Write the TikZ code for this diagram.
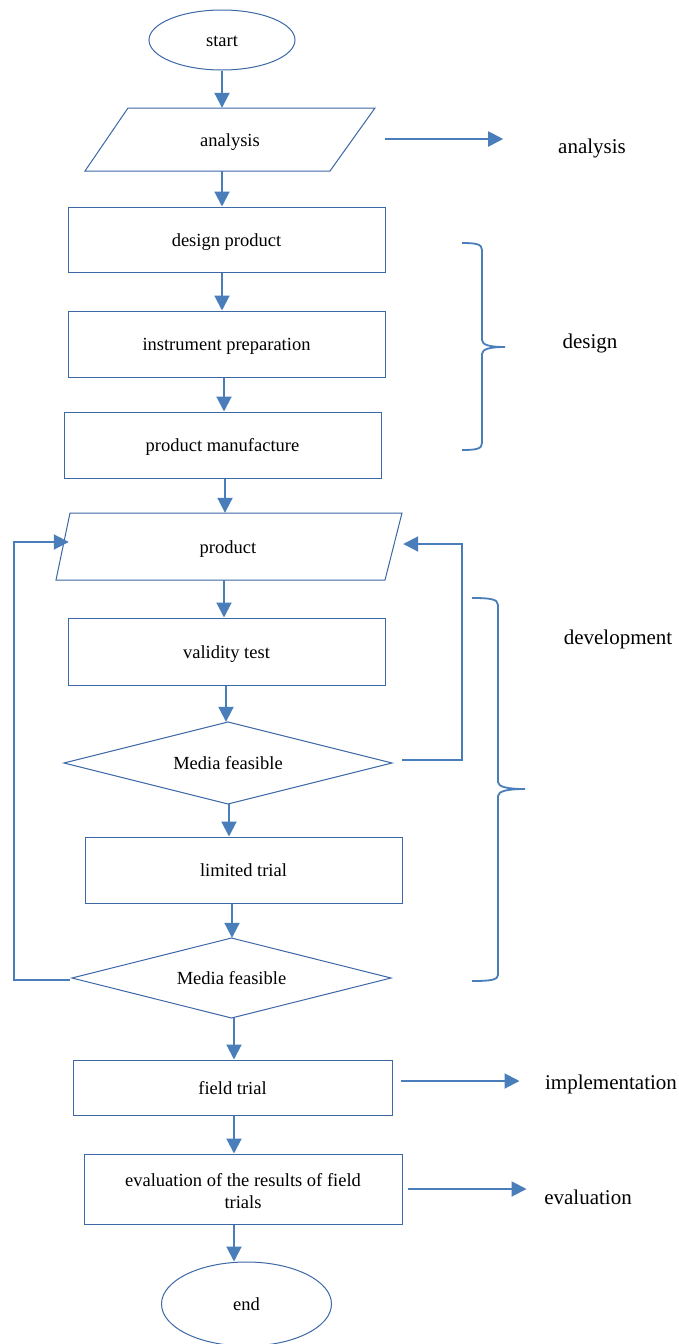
\documentclass[tikz,border=0pt]{standalone}
\usepackage{fontspec}
\setmainfont{Liberation Serif}
\usetikzlibrary{shapes.geometric,arrows.meta}
\definecolor{lineblue}{RGB}{74,126,187}
\definecolor{edgeblue}{RGB}{60,104,165}
\newcommand\nfont{\fontsize{18.5}{21.5}\selectfont}
\newcommand\lfont{\fontsize{21}{24}\selectfont}
\begin{document}
\begin{tikzpicture}[x=1pt,y=-1pt,
  shp/.style={draw=edgeblue,line width=1pt,line join=miter},
  box/.style={draw=edgeblue,line width=1pt,rectangle,inner sep=2pt,align=center,font=\nfont,text height=13pt,text depth=0pt},
  ell/.style={draw=edgeblue,line width=1pt,ellipse,inner sep=0pt,font=\nfont,text height=13pt,text depth=0pt},
  txt/.style={rectangle,inner sep=0pt,align=center,font=\nfont,text height=13pt,text depth=0pt},
  lab/.style={inner sep=0pt,font=\lfont,text height=14.5pt,text depth=0pt},
  conn/.style={draw=lineblue,line width=2pt},
  arr/.style={conn,-{Triangle[length=15pt,width=15pt]}},
  brace/.style={draw=lineblue,line width=1.8pt}]
\useasboundingbox[fill=white] (0,0) rectangle (679,1344);

% start / end
\node[ell,minimum width=146pt,minimum height=60pt] (st) at (222,40) {start};
\node[ell,minimum width=170pt,minimum height=84pt] (en) at (246.5,1304) {end};

% analysis parallelogram
\draw[shp] (128,108) -- (375,108) -- (330,171) -- (85,171) -- cycle;
\node[txt,minimum width=200pt,minimum height=63pt] (an) at (230,139.5) {analysis};

% boxes
\node[box,minimum width=317pt,minimum height=65pt] (dp) at (226.5,239.5) {design product};
\node[box,minimum width=317pt,minimum height=66pt] (ip) at (226.5,344) {instrument preparation};
\node[box,minimum width=317pt,minimum height=66pt] (pm) at (222.5,445) {product manufacture};

% product parallelogram
\draw[shp] (70,513) -- (402,513) -- (385,580) -- (56,580) -- cycle;
\node[txt,minimum width=350pt,minimum height=67pt] (prod) at (228,546.5) {product};

\node[box,minimum width=317pt,minimum height=67pt] (vt) at (226.5,651.5) {validity test};

% diamond 1
\draw[shp] (228,722) -- (392,763) -- (228,804) -- (64,763) -- cycle;
\node[txt,minimum width=328pt,minimum height=82pt] (d1) at (228,763) {Media feasible};

\node[box,minimum width=317pt,minimum height=66pt] (lt) at (243.5,870) {limited trial};

% diamond 2
\draw[shp] (231.5,938) -- (391,978) -- (231.5,1018) -- (72,978) -- cycle;
\node[txt,minimum width=319pt,minimum height=80pt] (d2) at (231.5,978) {Media feasible};

\node[box,minimum width=319pt,minimum height=55pt] (ft) at (232.5,1087.5) {field trial};
\node[box,minimum width=318pt,minimum height=70pt,text height=,text depth=] (ev) at (243,1189) {\raisebox{-4pt}[\height][\depth]{\begin{tabular}{@{}c@{}}evaluation of the results of field\\trials\end{tabular}}};

% main flow arrows
\draw[arr] (st.south) -- (st.south |- an.north);
\draw[arr] ([xshift=-8pt]an.south) -- ([xshift=-8pt]an.south |- dp.north);
\draw[arr] ([xshift=-4.5pt]dp.south) -- ([xshift=-4.5pt]dp.south |- ip.north);
\draw[arr] ([xshift=-2.5pt]ip.south) -- ([xshift=-2.5pt]ip.south |- pm.north);
\draw[arr] ([xshift=2.5pt]pm.south) -- ([xshift=2.5pt]pm.south |- prod.north);
\draw[arr] ([xshift=-4pt]prod.south) -- ([xshift=-4pt]prod.south |- vt.north);
\draw[arr] ([xshift=-0.5pt]vt.south) -- ([xshift=-0.5pt]vt.south |- d1.north);
\draw[arr] ([xshift=1pt]d1.south) -- ([xshift=1pt]d1.south |- lt.north);
\draw[arr] ([xshift=-11.5pt]lt.south) -- ([xshift=-11.5pt]lt.south |- d2.north);
\draw[arr] ([xshift=2.5pt]d2.south) -- ([xshift=2.5pt]d2.south |- ft.north);
\draw[arr] ([xshift=1.5pt]ft.south) -- ([xshift=1.5pt]ft.south |- ev.north);
\draw[arr] ([xshift=-9pt]ev.south) -- ([xshift=-9pt]ev.south |- en.north);

% feedback loops
\draw[arr] ([xshift=10pt,yshift=3pt]d1.east) -- ++(60,0) |- ([yshift=2.5pt]prod.east);
\draw[arr] ([xshift=-2pt,yshift=-2pt]d2.west) -- ++(-56,0) |- ([xshift=16pt,yshift=4.5pt]prod.west);

% side labels
\node[lab] (la) at (592,146) {analysis};
\node[lab] (ld) at (590,341) {design};
\node[lab] (ldev) at (618,637) {development};
\node[lab] (li) at (611,1082) {implementation};
\node[lab] (le) at (588,1197) {evaluation};

% side arrows
\draw[arr] ([xshift=55pt,yshift=0.5pt]an.east) -- ++(118,0);
\draw[arr] ([xshift=8pt,yshift=6.5pt]ft.east) -- ++(119,0);
\draw[arr] ([xshift=5pt]ev.east) -- ++(119,0);

% braces
\draw[brace] (462,243) .. controls (476,243) and (482,244) .. (482,250) -- (482,340)
  .. controls (482,345) and (490,347) .. (505,347)
  .. controls (490,347) and (482,349) .. (482,354) -- (482,443)
  .. controls (482,449) and (476,450) .. (462,450);
\draw[brace] (472,598) .. controls (490,598) and (498,599) .. (498,605) -- (498,782)
  .. controls (498,787) and (508,789) .. (525,789)
  .. controls (508,789) and (498,791) .. (498,796) -- (498,975)
  .. controls (498,980) and (490,981) .. (472,981);
\end{tikzpicture}
\end{document}
